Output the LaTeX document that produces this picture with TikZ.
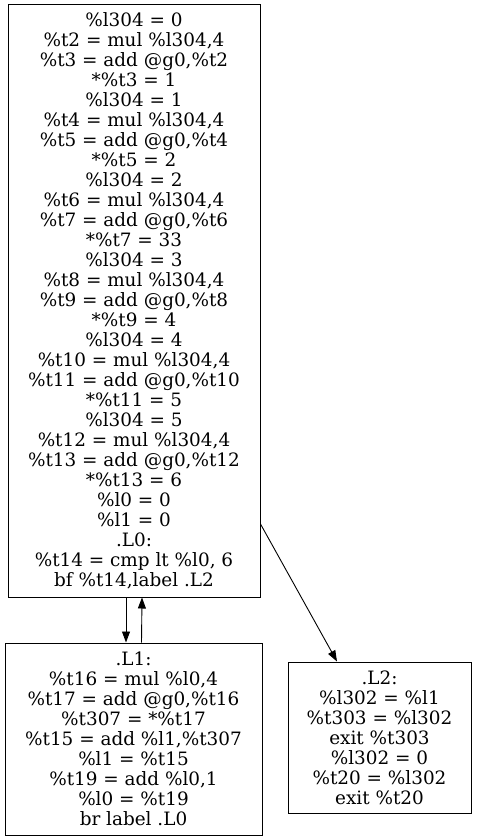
\documentclass[tikz,border=0pt]{standalone}
\usepackage{fontspec}
\setmainfont{DejaVu Serif}
\usetikzlibrary{arrows.meta}
\tikzset{
  blk/.style={draw, line width=1pt, rectangle, inner sep=0pt, align=center,
    font=\fontsize{18.4}{20}\selectfont},
  edge/.style={line width=0.9pt, -{Triangle[length=11pt,width=8pt]}}
}
\begin{document}
\begin{tikzpicture}[x=1pt,y=-1pt]
\useasboundingbox (0,0) rectangle (477,840);
\node[blk, minimum width=252pt, minimum height=592pt] (top) at (134,301) {%
\%l304 = 0\\
\%t2 = mul \%l304,4\\
\%t3 = add @g0,\%t2\\
*\%t3 = 1\\
\%l304 = 1\\
\%t4 = mul \%l304,4\\
\%t5 = add @g0,\%t4\\
*\%t5 = 2\\
\%l304 = 2\\
\%t6 = mul \%l304,4\\
\%t7 = add @g0,\%t6\\
*\%t7 = 33\\
\%l304 = 3\\
\%t8 = mul \%l304,4\\
\%t9 = add @g0,\%t8\\
*\%t9 = 4\\
\%l304 = 4\\
\%t10 = mul \%l304,4\\
\%t11 = add @g0,\%t10\\
*\%t11 = 5\\
\%l304 = 5\\
\%t12 = mul \%l304,4\\
\%t13 = add @g0,\%t12\\
*\%t13 = 6\\
\%l0 = 0\\
\%l1 = 0\\
.L0:\\
\%t14 = cmp lt \%l0, 6\\
bf \%t14,label .L2};
\node[blk, minimum width=257pt, minimum height=192pt] (L1) at (133.5,739) {%
.L1:\\
\%t16 = mul \%l0,4\\
\%t17 = add @g0,\%t16\\
\%t307 = *\%t17\\
\%t15 = add \%l1,\%t307\\
\%l1 = \%t15\\
\%t19 = add \%l0,1\\
\%l0 = \%t19\\
br label .L0};
\node[blk, minimum width=183pt, minimum height=151pt] (L2) at (379.5,737.5) {%
.L2:\\
\%l302 = \%l1\\
\%t303 = \%l302\\
exit \%t303\\
\%l302 = 0\\
\%t20 = \%l302\\
exit \%t20};
\draw[edge] ([xshift=-8pt]top.south) -- ([xshift=-7.5pt]L1.north);
\draw[edge] ([xshift=8pt]L1.north) -- ([xshift=8pt]top.south);
\draw[edge] ([yshift=-223pt]top.east) -- ([xshift=-42.5pt]L2.north);
\end{tikzpicture}
\end{document}
